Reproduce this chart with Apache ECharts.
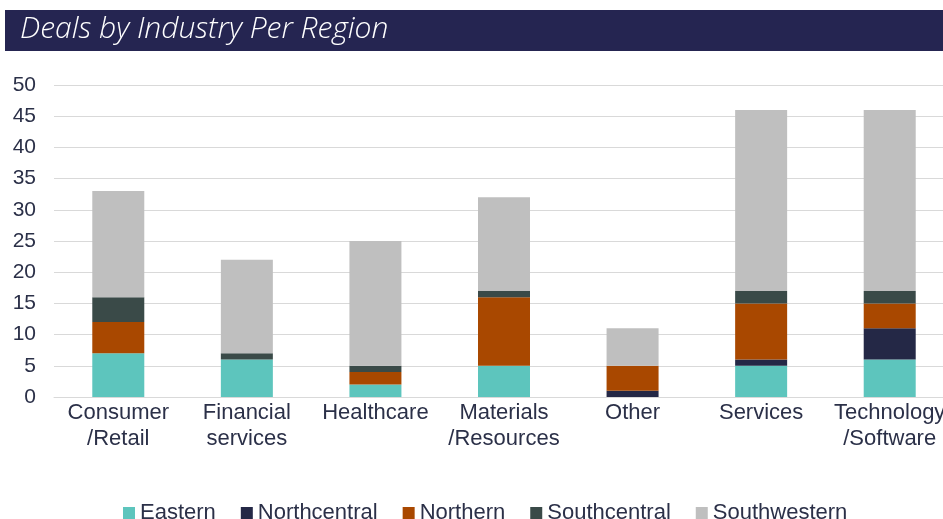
<!DOCTYPE html>
<html>
<head>
<meta charset="utf-8">
<script src="https://cdn.jsdelivr.net/npm/echarts@6/dist/echarts.min.js"></script>
<style>
  html, body { margin: 0; padding: 0; background: #ffffff; }
  #chart { width: 943px; height: 519px; }
</style>
</head>
<body>
<div id="chart"></div>
<script>
const categories = ['Consumer\n/Retail', 'Financial\nservices', 'Healthcare', 'Materials\n/Resources', 'Other', 'Services', 'Technology\n/Software']
const eastern = [7, 6, 2, 5, 0, 5, 6]
const northcentral = [0, 0, 0, 0, 1, 1, 5]
const northern = [5, 0, 2, 11, 4, 9, 4]
const southcentral = [4, 1, 1, 1, 0, 2, 2]
const southwestern = [17, 15, 20, 15, 6, 29, 29]

const seriesDefs = [
    { name: 'Eastern', data: eastern, color: '#5dc5bd' },
    { name: 'Northcentral', data: northcentral, color: '#242846' },
    { name: 'Northern', data: northern, color: '#a94800' },
    { name: 'Southcentral', data: southcentral, color: '#3a4a48' },
    { name: 'Southwestern', data: southwestern, color: '#bfbfbf' }
]

const textColor = '#2b3048'
const labelFont = 'Liberation Sans, Arial, sans-serif'

function buildOption() {
    return {
        animation: false,
        graphic: [
            {
                type: 'rect',
                shape: { x: 5, y: 10, width: 943, height: 41 },
                style: { fill: '#252551' }
            },
            {
                type: 'text',
                left: 20,
                top: 14,
                style: {
                    text: 'Deals by Industry Per Region',
                    fill: '#ffffff',
                    font: 'italic 300 30px "Open Sans", sans-serif'
                }
            }
        ],
        grid: { left: 54, right: -11, top: 85, bottom: 122, outerBoundsMode: 'none', containLabel: false },
        legend: {
            top: 497,
            left: 118,
            itemWidth: 12,
            itemHeight: 12,
            itemGap: 25,
            icon: 'rect',
            textStyle: { color: textColor, fontSize: 22, fontFamily: labelFont },
            data: seriesDefs.map(s => s.name)
        },
        xAxis: {
            type: 'category',
            data: categories,
            axisLine: { lineStyle: { color: '#d9d9d9', width: 1 } },
            axisTick: { show: false },
            axisLabel: {
                color: textColor,
                fontSize: 22,
                lineHeight: 26,
                margin: 3,
                interval: 0,
                fontFamily: labelFont
            }
        },
        yAxis: {
            type: 'value',
            min: 0,
            max: 50,
            interval: 5,
            axisLine: { show: false },
            axisTick: { show: false },
            splitLine: { lineStyle: { color: '#d9d9d9', width: 1 } },
            axisLabel: {
                color: textColor,
                fontSize: 21,
                margin: 18,
                fontFamily: labelFont
            }
        },
        series: seriesDefs.map(s => ({
            name: s.name,
            type: 'bar',
            stack: 'total',
            barWidth: 52,
            data: s.data,
            itemStyle: { color: s.color }
        }))
    }
}

const chart = echarts.init(document.getElementById('chart'))
chart.setOption(buildOption())
</script>
</body>
</html>
